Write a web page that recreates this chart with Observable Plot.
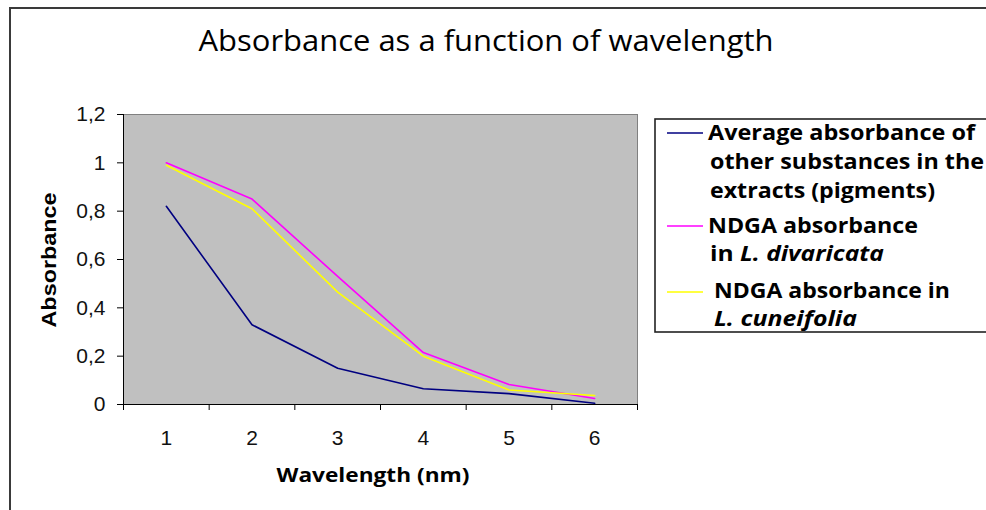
<!DOCTYPE html>
<html>
<head>
<meta charset="utf-8">
<script src="https://cdn.jsdelivr.net/npm/d3@7"></script>
<script src="https://cdn.jsdelivr.net/npm/@observablehq/plot@0.6"></script>
<style>
  html, body { margin: 0; padding: 0; background: #fff; }
  #wrap { position: relative; width: 986px; height: 510px; overflow: hidden; }
  #wrap > svg { position: absolute; left: 0; top: 0; }
</style>
</head>
<body>
<div id="wrap"></div>
<script>
// ---- data ----
const wavelength = [1, 2, 3, 4, 5, 6];
const xTickLabels = ["1", "2", "3", "4", "5", "6"];
const yTicks = [0, 0.2, 0.4, 0.6, 0.8, 1, 1.2];
const pigments   = [0.82, 0.33, 0.15, 0.065, 0.045, 0.005];
const divaricata = [1.0, 0.85, 0.53, 0.215, 0.083, 0.025];
const cuneifolia = [0.99, 0.81, 0.465, 0.2, 0.06, 0.037];
const seriesNames = ["pigments", "divaricata", "cuneifolia"];
const seriesColors = ["#000080", "#ff00ff", "#ffff00"];
const titleText = "Absorbance as a function of wavelength";
const xTitle = "Wavelength (nm)";
const yTitle = "Absorbance";
// legend lines: [plain text, italic part]
const legendLines = [
  [["Average absorbance of", ""], ["other substances in the", ""], ["extracts (pigments)", ""]],
  [["NDGA absorbance", ""], ["in ", "L. divaricata"]],
  [["NDGA absorbance in", ""], ["", "L. cuneifolia"]]
];

const seriesValues = [pigments, divaricata, cuneifolia];
const rows = [];
seriesNames.forEach((s, k) => wavelength.forEach((w, i) => rows.push({series: s, x: w, y: seriesValues[k][i]})));
const bounds = [wavelength[0] - 0.5, ...wavelength.map(w => w + 0.5)];

const chart = Plot.plot({
  width: 986, height: 510,
  marginLeft: 123, marginRight: 349, marginTop: 114, marginBottom: 106,
  x: {domain: [bounds[0], bounds[bounds.length - 1]]},
  y: {domain: [0, 1.2]},
  color: {domain: seriesNames, range: seriesColors},
  style: {fontFamily: "'Liberation Sans', Arial, sans-serif", fontSize: "21px", color: "#000", background: "transparent", overflow: "visible"},
  marks: [
    Plot.frame({fill: "#c0c0c0", stroke: "#808080"}),
    Plot.axisY({ticks: yTicks, tickSize: 6, tickPadding: 12, tickFormat: d => String(d).replace(".", ","), label: null, stroke: "#000", fontSize: 21}),
    Plot.axisX({ticks: wavelength, tickSize: 0, tickPadding: 26, tickFormat: (d, i) => xTickLabels[i], label: null, fontSize: 21}),
    Plot.axisX({ticks: bounds, tickSize: 6, tickFormat: () => "", label: null, stroke: "#000"}),
    Plot.ruleX([bounds[0]], {stroke: "#000"}),
    Plot.ruleY([0], {stroke: "#000"}),
    Plot.line(rows, {x: "x", y: "y", z: "series", stroke: "series", strokeWidth: 1.6})
  ]
});
d3.select(chart).selectAll("g[aria-label$='tick label'] text")
  .attr("font-size", 21).attr("fill", "#111");
const wrap = document.getElementById("wrap");
wrap.appendChild(chart);

// ---- overlay: frame, title, axis titles, legend ----
const ov = d3.select(wrap).append("svg").attr("width", 986).attr("height", 510);
ov.append("rect").attr("x", 10).attr("y", 8).attr("width", 1000).attr("height", 520)
  .attr("fill", "none").attr("stroke", "#3a3a3a").attr("stroke-width", 2);

ov.append("text").attr("x", 486).attr("y", 51).attr("text-anchor", "middle")
  .attr("font-family", "'Open Sans', sans-serif").attr("font-size", 29)
  .attr("textLength", 575).attr("lengthAdjust", "spacingAndGlyphs")
  .attr("fill", "#000").text(titleText);

ov.append("text").attr("x", 373).attr("y", 482).attr("text-anchor", "middle")
  .attr("font-family", "'Open Sans', sans-serif").attr("font-weight", "bold").attr("font-size", 20)
  .attr("textLength", 193).attr("lengthAdjust", "spacingAndGlyphs")
  .attr("fill", "#000").text(xTitle);

ov.append("text").attr("transform", "translate(56,260) rotate(-90)").attr("text-anchor", "middle")
  .attr("font-family", "'Liberation Sans', Arial, sans-serif").attr("font-weight", "bold").attr("font-size", 19.5)
  .attr("textLength", 135).attr("lengthAdjust", "spacingAndGlyphs")
  .attr("fill", "#000").text(yTitle);

// legend
ov.append("rect").attr("x", 655).attr("y", 119).attr("width", 400).attr("height", 213)
  .attr("fill", "#fff").attr("stroke", "#222").attr("stroke-width", 1.6);
const swatchY = [133, 226, 292];
const baselines = [[140, 169, 198], [233, 261], [298, 326]];
const textX = [[708, 710, 710], [708, 710], [714, 714]];
const textW = [[267, 274, 225], [210, 174], [236, 143]];
legendLines.forEach((lines, k) => {
  ov.append("line").attr("x1", 667).attr("x2", 703).attr("y1", swatchY[k]).attr("y2", swatchY[k])
    .attr("stroke", seriesColors[k]).attr("stroke-width", 1.6);
  lines.forEach(([plain, ital], j) => {
    const t = ov.append("text").attr("x", textX[k][j]).attr("y", baselines[k][j])
      .attr("font-family", "'Open Sans', sans-serif").attr("font-weight", "bold").attr("font-size", 21.5)
      .attr("textLength", textW[k][j]).attr("lengthAdjust", "spacingAndGlyphs")
      .attr("fill", "#000");
    if (plain) t.append("tspan").text(plain);
    if (ital) t.append("tspan").attr("font-style", "italic").text(ital);
  });
});
</script>
</body>
</html>
